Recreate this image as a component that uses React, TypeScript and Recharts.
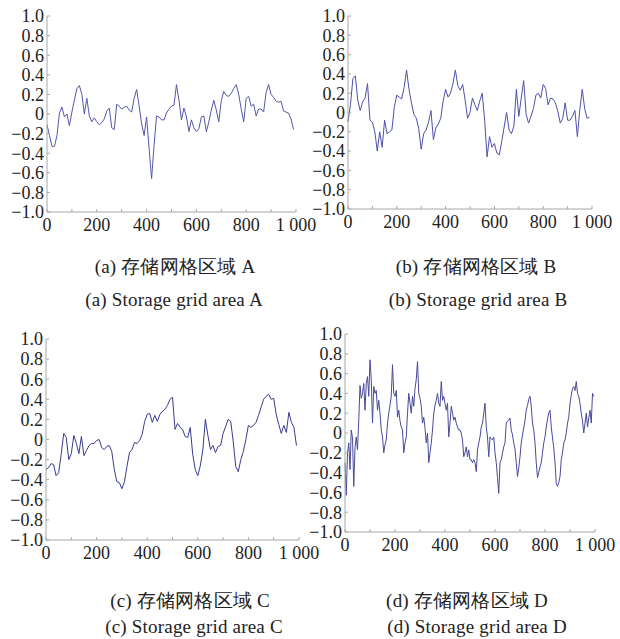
import { LineChart, Line, XAxis, YAxis } from "recharts";

const xTicks = [0, 100, 200, 300, 400, 500, 600, 700, 800, 900, 1000];
const yTicks = [-1, -0.8, -0.6, -0.4, -0.2, 0, 0.2, 0.4, 0.6, 0.8, 1];

// traces, evenly spaced over 0..1000
const areaA = [
  -0.11, -0.22, -0.33, -0.33, -0.22, 0.01, 0.07, -0.03, 0.0, -0.12,
  0.02, 0.14, 0.26, 0.29, 0.2, 0.0, 0.16, -0.02, -0.08, -0.04,
  -0.08, -0.11, -0.09, -0.05, 0.03, 0.06, -0.14, -0.16, 0.1, 0.08,
  0.05, 0.07, 0.08, 0.04, 0.02, 0.16, 0.25, 0.08, -0.1, -0.22,
  -0.03, -0.35, -0.66, -0.32, -0.02, -0.03, -0.06, -0.06, 0.01, 0.05,
  0.08, 0.09, 0.3, 0.14, -0.06, 0.06, -0.03, -0.18, -0.06, -0.14,
  -0.18, -0.15, -0.03, -0.02, -0.18, -0.08, 0.04, 0.14, 0.04, -0.08,
  0.14, 0.23, 0.19, 0.18, 0.21, 0.26, 0.3, 0.2, 0.05, -0.08,
  0.16, 0.18, 0.08, 0.1, -0.02, 0.05, 0.05, 0.02, 0.22, 0.3,
  0.2, 0.17, 0.13, 0.12, 0.13, 0.03, 0.02, 0.01, -0.05, -0.16,
];

const areaB = [
  -0.1, 0.08, 0.35, 0.38, 0.13, 0.02, 0.11, 0.15, 0.3, -0.08,
  -0.1, -0.2, -0.4, -0.2, -0.36, -0.08, -0.22, -0.2, -0.18, 0.06,
  0.18, 0.16, 0.14, 0.26, 0.44, 0.24, 0.1, -0.02, -0.06, -0.17,
  -0.38, -0.22, -0.18, -0.1, 0.02, -0.28, -0.16, -0.12, -0.06, 0.12,
  0.24, 0.16, 0.2, 0.3, 0.44, 0.28, 0.23, 0.29, 0.13, -0.06,
  0.0, 0.15, 0.08, 0.02, 0.12, 0.2, -0.08, -0.46, -0.25, -0.36,
  -0.32, -0.42, -0.44, -0.3, -0.15, 0.0, -0.18, -0.22, -0.14, 0.24,
  -0.04, 0.15, 0.33, -0.02, -0.11, -0.04, 0.04, 0.18, 0.2, 0.15,
  0.29, 0.25, 0.08, 0.15, 0.14, 0.1, 0.01, -0.11, -0.06, 0.1,
  -0.08, -0.08, -0.04, 0.02, -0.25, 0.03, 0.24, 0.04, -0.06, -0.05,
];

const areaC = [
  -0.3, -0.28, -0.24, -0.25, -0.36, -0.33, -0.15, 0.06, 0.02, -0.2,
  -0.14, 0.04, -0.04, -0.14, 0.03, -0.16, -0.11, -0.06, -0.04, -0.04,
  -0.01, 0.0, -0.08, -0.1, -0.07, -0.06, -0.12, -0.3, -0.42, -0.43,
  -0.49, -0.42, -0.27, -0.13, -0.1, -0.03, -0.04, -0.01, 0.05, 0.18,
  0.25, 0.26, 0.17, 0.24, 0.18, 0.25, 0.28, 0.3, 0.34, 0.4,
  0.42, 0.1, 0.16, 0.12, 0.1, 0.03, 0.02, 0.12, -0.15, -0.3,
  -0.36, -0.26, -0.1, 0.2, 0.04, -0.1, -0.06, -0.13, -0.07, -0.06,
  0.06, 0.13, 0.2, 0.18, -0.02, -0.27, -0.32, -0.2, -0.12, 0.0,
  0.14, 0.12, 0.14, 0.17, 0.24, 0.32, 0.4, 0.43, 0.45, 0.4,
  0.41, 0.25, 0.15, 0.06, 0.14, 0.07, 0.27, 0.17, 0.12, -0.06,
];

const areaD = [
  -0.3, -0.63, -0.2, -0.1, -0.37, 0.03, -0.05, -0.54, -0.15, -0.04,
  -0.17, 0.13, 0.48, 0.35, 0.4, 0.5, 0.23, 0.5, 0.57, 0.37,
  0.74, 0.54, 0.1, 0.47, 0.4, 0.43, 0.23, 0.33, 0.2, 0.03,
  -0.04, -0.2, -0.12, -0.07, 0.1, 0.2, 0.28, 0.37, 0.69, 0.4,
  0.37, 0.43, 0.16, 0.23, 0.12, 0.06, 0.03, -0.2, -0.1, -0.04,
  0.2, 0.4, 0.3, 0.2, 0.37, 0.27, 0.45, 0.54, 0.72, 0.4,
  0.35, 0.27, 0.1, 0.16, 0.05, -0.1, 0.0, -0.3, -0.2, -0.1,
  0.03, 0.2, 0.28, 0.33, 0.4, 0.3, 0.27, 0.52, 0.33, 0.37,
  0.3, 0.23, 0.3, -0.04, 0.1, 0.27, 0.2, 0.13, 0.16, 0.1,
  0.06, 0.03, 0.03, 0.0, -0.07, -0.24, -0.2, -0.14, -0.24, -0.17,
  -0.27, -0.27, -0.3, -0.27, -0.3, -0.39, -0.17, -0.1, -0.04, 0.06,
  0.1, 0.2, 0.3, 0.06, -0.04, -0.24, -0.04, -0.06, -0.07, -0.04,
  -0.2, -0.3, -0.45, -0.61, -0.3, -0.27, -0.2, -0.14, -0.1, 0.1,
  0.12, 0.13, 0.15, 0.03, -0.02, -0.1, -0.16, -0.3, -0.44, -0.35,
  -0.24, -0.1, -0.02, 0.05, 0.13, 0.23, 0.28, 0.34, 0.37, 0.27,
  0.1, 0.03, -0.1, -0.3, -0.45, -0.4, -0.34, -0.3, -0.2, -0.1,
  -0.04, 0.06, 0.14, 0.2, 0.23, 0.06, -0.05, -0.15, -0.3, -0.51,
  -0.54, -0.5, -0.44, -0.27, -0.2, -0.1, -0.07, 0.0, 0.1, 0.16,
  0.3, 0.38, 0.45, 0.47, 0.43, 0.52, 0.4, 0.37, 0.3, 0.2,
  0.12, 0.0, 0.1, 0.2, 0.06, 0.15, 0.23, 0.1, 0.4, 0.37,
];

const captionsZh = ["(a) 存储网格区域 A", "(b) 存储网格区域 B", "(c) 存储网格区域 C", "(d) 存储网格区域 D"];
const captionsEn = [
  "(a) Storage grid area A",
  "(b) Storage grid area B",
  "(c) Storage grid area C",
  "(d) Storage grid area D",
];

const serif = '"Liberation Serif"';
const axisGray = "#a8a8a8";

const fmtY = (v: number) => (v === 0 ? "0" : v.toFixed(1).replace("-", "\u2212"));
const fmtX = (v: number) => (v === 1000 ? "1 000" : v % 200 === 0 ? String(v) : "");

interface PanelProps {
  values: number[];
  color: string;
  x0: number;
  x1: number;
  y0: number;
  y1: number;
}

function Panel({ values, color, x0, x1, y0, y1 }: PanelProps) {
  const step = 1000 / values.length;
  const data = values.map((v, i) => ({ t: i * step, v }));
  const yW = 50;
  const padTop = 10;
  const padRight = 34;
  const xH = 30;
  return (
    <div style={{ position: "absolute", left: x0 - yW, top: y0 - padTop }}>
      <LineChart
        width={x1 - x0 + yW + padRight}
        height={y1 - y0 + padTop + xH}
        data={data}
        margin={{ top: padTop, right: padRight, left: 0, bottom: 0 }}
        style={{ overflow: "visible" }}
      >
        <XAxis
          dataKey="t"
          type="number"
          domain={[0, 1000]}
          ticks={xTicks}
          tickFormatter={fmtX}
          interval={0}
          height={xH}
          tickSize={-3}
          tickMargin={9}
          tick={{ fontSize: 18, fill: "#222", fontFamily: serif }}
          axisLine={{ stroke: axisGray }}
          tickLine={{ stroke: axisGray }}
        />
        <YAxis
          domain={[-1, 1]}
          ticks={yTicks}
          tickFormatter={fmtY}
          interval={0}
          width={yW}
          tickSize={-3}
          tickMargin={6}
          tick={{ fontSize: 18, fill: "#222", fontFamily: serif }}
          axisLine={{ stroke: axisGray }}
          tickLine={{ stroke: axisGray }}
        />
        <Line
          type="linear"
          dataKey="v"
          stroke={color}
          strokeWidth={1}
          dot={false}
          isAnimationActive={false}
        />
      </LineChart>
    </div>
  );
}

function Caption({ cx, top, text }: { cx: number; top: number; text: string }) {
  return (
    <div
      style={{
        position: "absolute",
        left: cx - 150,
        width: 300,
        top,
        textAlign: "center",
        fontFamily: serif,
        fontSize: 19,
        letterSpacing: 0.2,
        color: "#222",
        whiteSpace: "nowrap",
        lineHeight: "24px",
      }}
    >
      {text}
    </div>
  );
}

export default function App() {
  return (
    <div
      style={{
        position: "absolute",
        left: 0,
        top: 0,
        width: 620,
        height: 639,
        background: "#fff",
        overflow: "hidden",
      }}
    >
      <Panel values={areaA} color="#5656aa" x0={47} x1={296} y0={16} y1={212} />
      <Panel values={areaB} color="#5050a8" x0={348} x1={592} y0={16} y1={209} />
      <Panel values={areaC} color="#3a3a8c" x0={46} x1={299} y0={339} y1={540} />
      <Panel values={areaD} color="#4a4a98" x0={345} x1={595} y0={334} y1={532} />

      <Caption cx={175} top={255} text={captionsZh[0]} />
      <Caption cx={174} top={288} text={captionsEn[0]} />
      <Caption cx={476} top={255} text={captionsZh[1]} />
      <Caption cx={478} top={288} text={captionsEn[1]} />
      <Caption cx={190} top={589} text={captionsZh[2]} />
      <Caption cx={194} top={615} text={captionsEn[2]} />
      <Caption cx={467} top={589} text={captionsZh[3]} />
      <Caption cx={477} top={615} text={captionsEn[3]} />
    </div>
  );
}
